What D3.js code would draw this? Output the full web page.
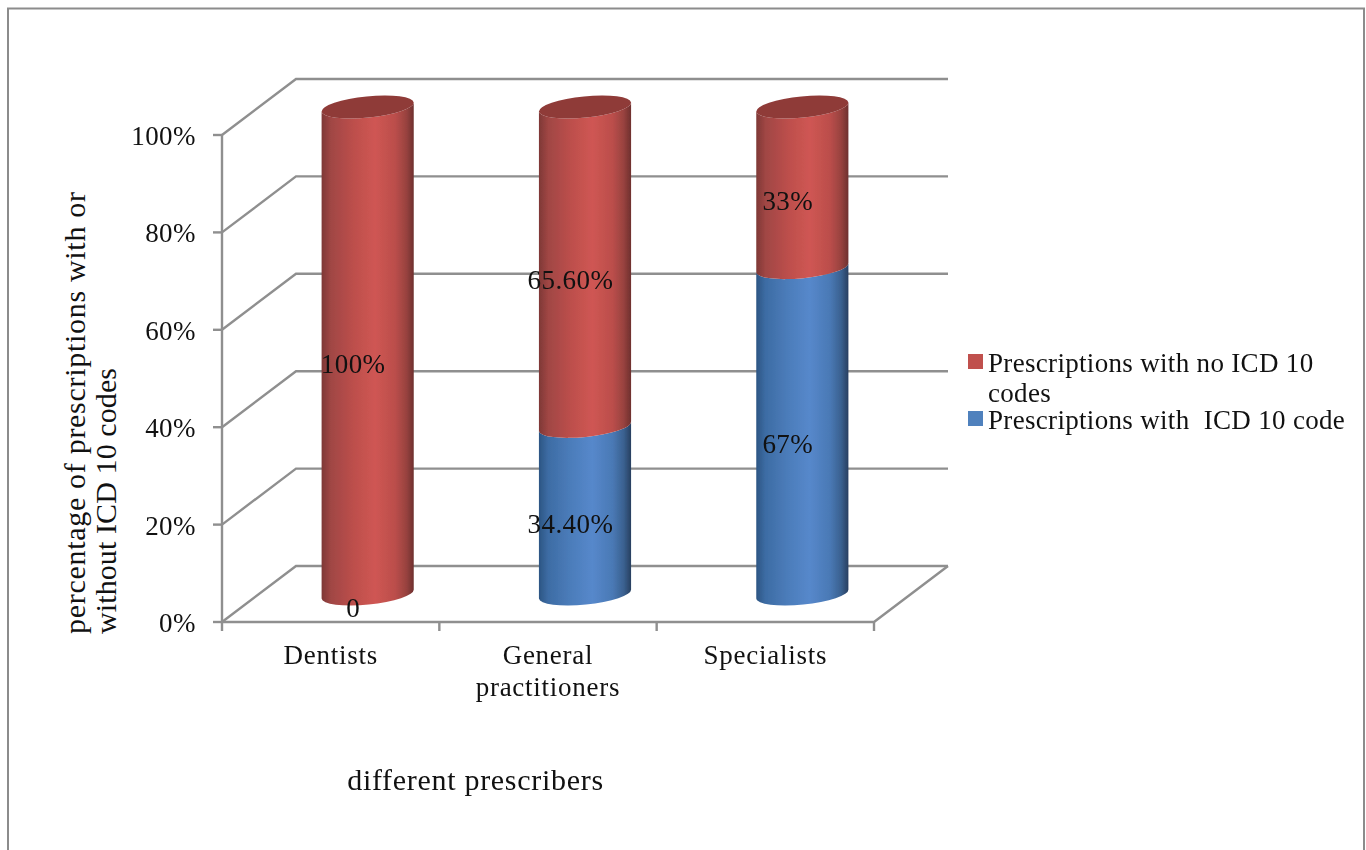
<!DOCTYPE html>
<html><head><meta charset="utf-8">
<script src="https://cdn.jsdelivr.net/npm/d3@7"></script>
<style>html,body{margin:0;padding:0;background:#fff}svg{display:block}text{font-family:"Liberation Serif",serif;fill:#111;font-size:27px;letter-spacing:.45px}</style>
</head><body><div id="c"></div>
<script>
const categories = ["Dentists", "General practitioners", "Specialists"];
const categoryLines = [["Dentists"], ["General", "practitioners"], ["Specialists"]];
const withCode = [0, 34.4, 67];
const noCode = [100, 65.6, 33];
const withCodeLabels = ["0", "34.40%", "67%"];
const noCodeLabels = ["100%", "65.60%", "33%"];
const yTicks = [0, 20, 40, 60, 80, 100];
const legendLabels = [["Prescriptions with no ICD 10", "codes"], ["Prescriptions with  ICD 10 code"]];
const yTitleLines = ["percentage of prescriptions with or", "without ICD 10 codes"];
const yTitleSpacing = ["0.7px", "0.1px"];
const xTitle = "different prescribers";

const W = 1366, H = 850;
const svg = d3.select("#c").append("svg").attr("width", W).attr("height", H);
const x = d3.scaleBand().domain(categories).range([222, 874]).paddingInner(0).paddingOuter(0);
const y = d3.scaleLinear().domain([0, 100]).range([622, 135]);
const depth = {dx: 74, dy: -56};
const gridC = "#8f8f8f";

const defs = svg.append("defs");
function grad(id, stops){
  const g = defs.append("linearGradient").attr("id", id);
  stops.forEach(([o, c]) => g.append("stop").attr("offset", o).attr("stop-color", c));
}
grad("red", [[0,"#7e3836"],[.1,"#a04644"],[.35,"#bd4f4c"],[.58,"#cf5653"],[.8,"#bb4e4b"],[.92,"#98423f"],[1,"#6e302e"]]);
grad("blue", [[0,"#2c5583"],[.1,"#3d6ca4"],[.35,"#4c7dbb"],[.58,"#5688cb"],[.8,"#4a79b5"],[.92,"#3a6190"],[1,"#283f60"]]);
defs.append("filter").attr("id", "soft").attr("x", "-5%").attr("y", "-5%").attr("width", "110%").attr("height", "110%")
  .append("feGaussianBlur").attr("stdDeviation", 0.55);

// frame
svg.append("path").attr("d", `M8 ${H}V8.5H1364V${H}`).attr("fill", "none").attr("stroke", "#8c8c8c").attr("stroke-width", 2);

// walls
const g = svg.append("g").attr("fill", "none").attr("stroke", gridC).attr("stroke-width", 2.4).attr("filter", "url(#soft)");
yTicks.forEach(t => {
  const py = y(t);
  g.append("path").attr("d", `M${x.range()[0]} ${py}l${depth.dx} ${depth.dy}H${x.range()[1] + depth.dx}`);
  g.append("path").attr("d", `M${x.range()[0] - 9} ${py}h9`);
});
g.append("path").attr("d", `M222 ${y(100)}V${y(0)}H${x.range()[1]}l${depth.dx} ${depth.dy}`);
categories.concat([null]).forEach((c, i) => {
  const px = c ? x(c) : x.range()[1];
  g.append("path").attr("d", `M${px} ${y(0)}v9`);
});

// cylinders
const a = 46.3, b = 10.5, theta = 5.7 * Math.PI / 180;
const ex = a * Math.cos(theta), ey = a * Math.sin(theta);
const cx = c => x(c) + x.bandwidth() / 2 + depth.dx / 2;
const cy = v => y(v) + depth.dy / 2;
const rot = -5.7;
function body(c, v0, v1){
  const X = cx(c), Y0 = cy(v0), Y1 = cy(v1);
  return `M${X - ex} ${Y0 + ey}A${a} ${b} ${rot} 0 0 ${X + ex} ${Y0 - ey}L${X + ex} ${Y1 - ey}A${a} ${b} ${rot} 0 1 ${X - ex} ${Y1 + ey}Z`;
}
const bars = svg.append("g").attr("filter", "url(#soft)");
categories.forEach((c, i) => {
  if (withCode[i] > 0) bars.append("path").attr("d", body(c, 0, withCode[i])).attr("fill", "url(#blue)");
  const base = withCode[i], top = base + noCode[i];
  bars.append("path").attr("d", body(c, base, top)).attr("fill", "url(#red)");
  bars.append("ellipse").attr("cx", cx(c)).attr("cy", cy(top)).attr("rx", a).attr("ry", b)
    .attr("transform", `rotate(${rot} ${cx(c)} ${cy(top)})`).attr("fill", "#8f3b39");
});

// data labels
categories.forEach((c, i) => {
  const lx = cx(c) - 14.5;
  svg.append("text").attr("x", lx).attr("y", cy(withCode[i] / 2) + 22.5).attr("text-anchor", "middle").text(withCodeLabels[i]);
  svg.append("text").attr("x", lx).attr("y", cy(withCode[i] + noCode[i] / 2) + 22.5).attr("text-anchor", "middle").text(noCodeLabels[i]);
});

// y tick labels
yTicks.forEach(t => svg.append("text").attr("x", 196).attr("y", y(t) + 10).attr("text-anchor", "end").text(t + "%"));

// category labels
categoryLines.forEach((lines, i) => lines.forEach((l, k) =>
  svg.append("text").attr("x", x(categories[i]) + x.bandwidth() / 2).attr("y", 664 + k * 32).attr("text-anchor", "middle").style("letter-spacing", "0.75px").text(l)));

// titles
yTitleLines.forEach((l, k) =>
  svg.append("text").attr("transform", `translate(${85 + k * 31},634) rotate(-90)`).style("font-size", "30px").style("letter-spacing", yTitleSpacing[k]).text(l));
svg.append("text").attr("x", 475.5).attr("y", 790).attr("text-anchor", "middle").style("font-size", "30px").style("letter-spacing", "0.7px").text(xTitle);

// legend
const legendC = ["#c0504d", "#4f81bd"];
const legY = [372, 429];
legendLabels.forEach((lines, i) => {
  svg.append("rect").attr("x", 968).attr("y", legY[i] - 18).attr("width", 15).attr("height", 15).attr("fill", legendC[i]);
  lines.forEach((l, k) => svg.append("text").attr("x", 988).attr("y", legY[i] + k * 30).style("white-space", "pre").style("letter-spacing", "0.32px").text(l));
});
</script></body></html>
